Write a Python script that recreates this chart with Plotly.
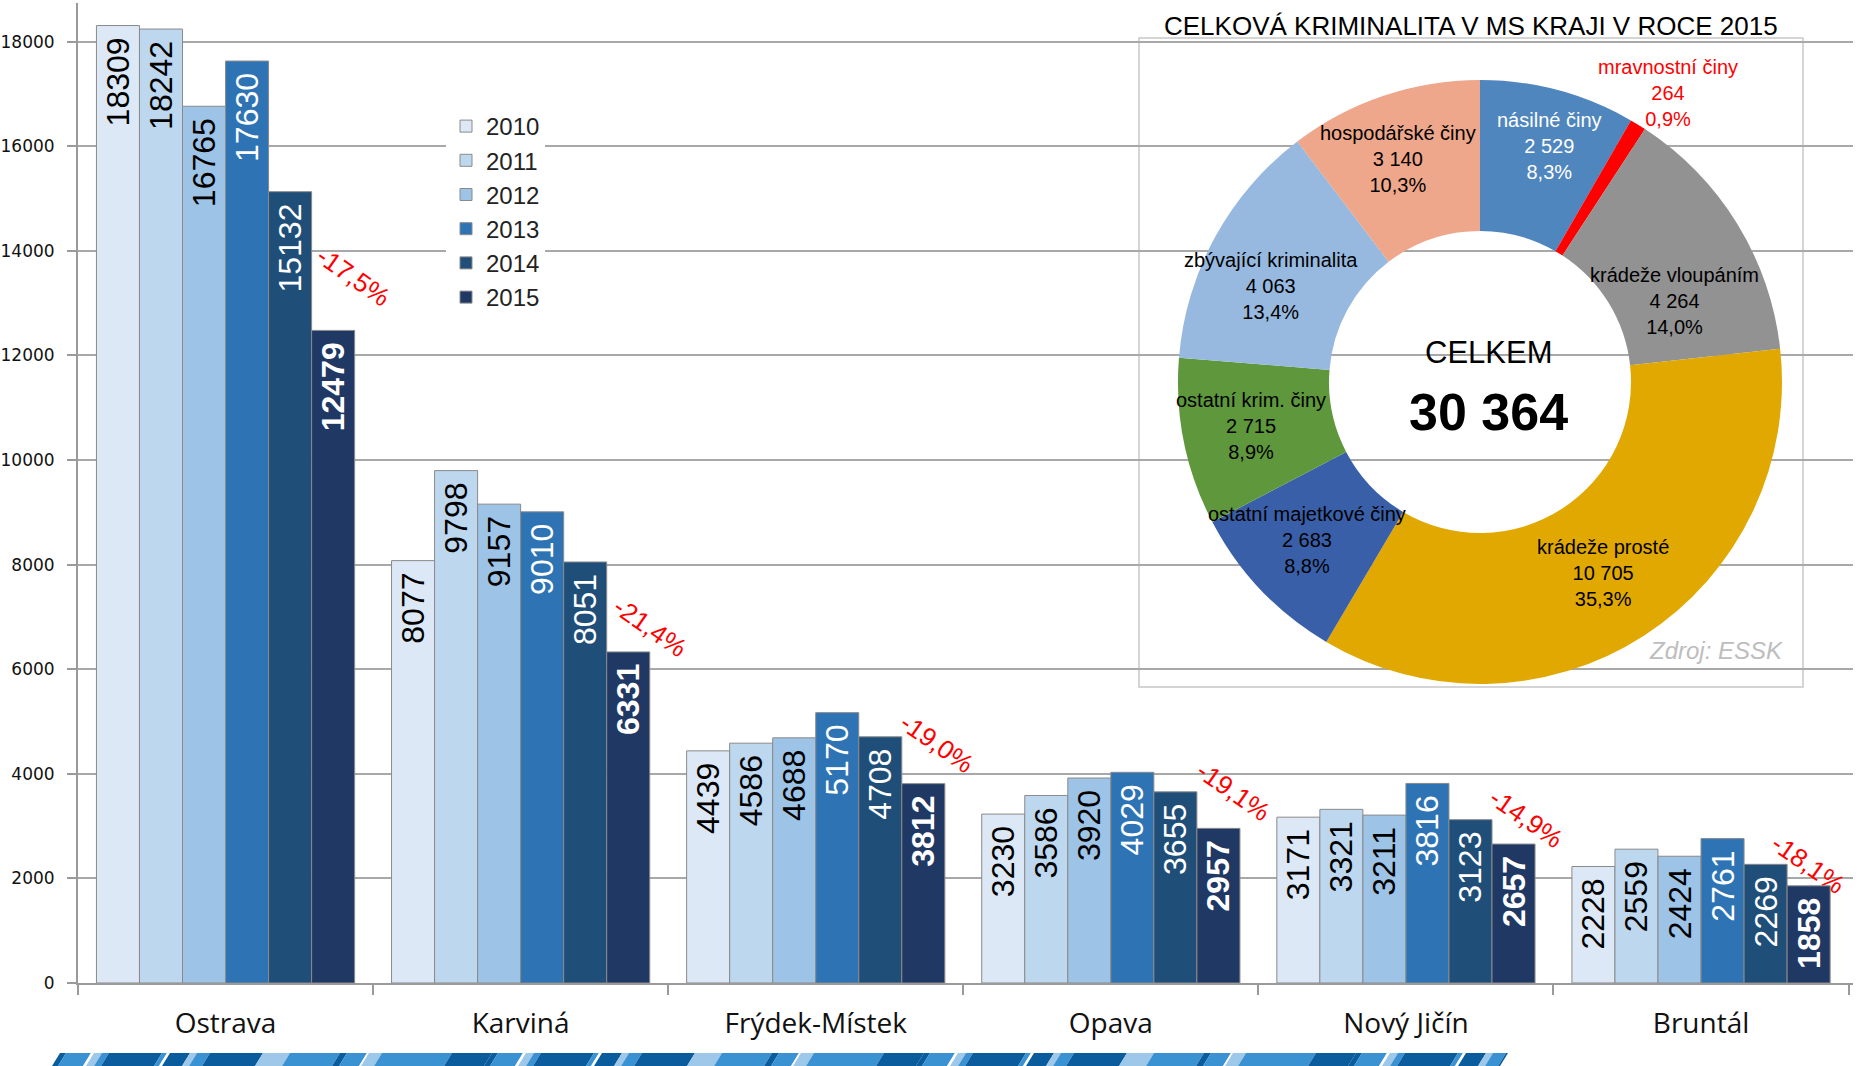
import math
import plotly.graph_objects as go

# ---------------- data ----------------
districts = ["Ostrava", "Karviná", "Frýdek-Místek", "Opava", "Nový Jičín", "Bruntál"]
years = ["2010", "2011", "2012", "2013", "2014", "2015"]
v2010 = [18309, 8077, 4439, 3230, 3171, 2228]
v2011 = [18242, 9798, 4586, 3586, 3321, 2559]
v2012 = [16765, 9157, 4688, 3920, 3211, 2424]
v2013 = [17630, 9010, 5170, 4029, 3816, 2761]
v2014 = [15132, 8051, 4708, 3655, 3123, 2269]
v2015 = [12479, 6331, 3812, 2957, 2657, 1858]
y_ticks = [0, 2000, 4000, 6000, 8000, 10000, 12000, 14000, 16000, 18000]

pie_labels = ["násilné činy", "mravnostní činy", "krádeže vloupáním", "krádeže prosté",
              "ostatní majetkové činy", "ostatní krim. činy", "zbývající kriminalita",
              "hospodářské činy"]
pie_values = [2529, 264, 4264, 10705, 2683, 2715, 4063, 3140]
total_2015 = 30364
pie_title = "CELKOVÁ KRIMINALITA V MS KRAJI V ROCE 2015"
source_text = "Zdroj: ESSK"

# ---------------- geometry / style ----------------
W, H = 1864, 1066
ML, MR, MT, MB = 78, 11, 3, 83
PW, PH = W - ML - MR, H - MT - MB


def px_x(px):
    return (px - ML) / PW


def px_y(py):
    return (H - MB - py) / PH


bar_colors = ["#DCE8F5", "#BDD7EE", "#9DC3E6", "#2E74B5", "#1F4E79", "#203864"]
text_colors = ["#000000", "#000000", "#000000", "#FFFFFF", "#FFFFFF", "#FFFFFF"]
series = [v2010, v2011, v2012, v2013, v2014, v2015]

fig = go.Figure()
for i, (yr, vals) in enumerate(zip(years, series)):
    if i == 5:
        txt = [f"<b>{v}</b>\u00a0" for v in vals]
    else:
        txt = [f"{v}\u00a0" for v in vals]
    fig.add_trace(go.Bar(
        name=yr, x=districts, y=vals,
        marker=dict(color=bar_colors[i], line=dict(color="#8a8a8a", width=1)),
        text=txt, textposition="inside", insidetextanchor="end", textangle=-90,
        constraintext="none",
        textfont=dict(family="Liberation Sans, Arial", size=32, color=text_colors[i]),
        hoverinfo="skip",
    ))

# ---------------- pie ----------------
pie_colors = ["#4F86BD", "#FF0000", "#929292", "#E0A800", "#3A5FA9", "#5F973C",
              "#97B9DF", "#EEA78A"]
cx, cy, R = 1480, 382, 302
fig.add_trace(go.Pie(
    values=pie_values, labels=pie_labels, hole=0.5, sort=False,
    direction="clockwise", rotation=0,
    marker=dict(colors=pie_colors, line=dict(width=0)),
    textinfo="none", hoverinfo="skip", showlegend=False,
    domain=dict(x=[px_x(cx - R), px_x(cx + R)], y=[px_y(cy + R), px_y(cy - R)]),
))

shapes = []
# white panel behind pie
shapes.append(dict(type="rect", xref="paper", yref="paper", layer="between",
                   x0=px_x(1139), x1=px_x(1803), y0=px_y(687), y1=px_y(38),
                   fillcolor="white", line=dict(color="#C8C8C8", width=1.5)))


def ann(text, x, y, size, color="#000", family="Liberation Sans, Arial", **kw):
    d = dict(text=text, xref="paper", yref="paper", x=px_x(x), y=px_y(y),
             xanchor="center", yanchor="middle", showarrow=False,
             font=dict(family=family, size=size, color=color))
    d.update(kw)
    return d


annotations = []
annotations.append(ann(pie_title, 1471, 26, 26))
annotations.append(ann("CELKEM", 1488, 353, 31))
annotations.append(ann("<b>" + f"{total_2015:,}".replace(",", " ") + "</b>", 1488, 412, 52))
annotations.append(ann("<i>" + source_text + "</i>", 1716, 651, 24, color="#BDBDBD"))

pie_sum = sum(pie_values)
label_colors = ["#FFFFFF", "#FF0000", "#000", "#000", "#000", "#000", "#000", "#000"]
label_radius = [246, 345, 211, 227, 234, 233, 230, 237]
label_dangle = [1.5, 1.5, 9, 0, 1, 0.5, -4, -1.5]
cum = 0
for i, (lab, v) in enumerate(zip(pie_labels, pie_values)):
    mid = (cum + v / 2) / pie_sum * 360 + label_dangle[i]
    cum += v
    a = math.radians(mid)
    lx = cx + label_radius[i] * math.sin(a)
    ly = cy - label_radius[i] * math.cos(a)
    pct = f"{v / pie_sum * 100:.1f}".replace(".", ",") + "%"
    txt = f"{lab}<br>{v:,}".replace(",", " ") + f"<br>{pct}"
    annotations.append(ann(txt, lx, ly, 20, color=label_colors[i]))

# red change labels 2014 -> 2015
chg_xshift = [127, 129, 121, 122, 120, 107]
chg_yshift = [54, 25, 41, 37, 26, 22]
for i, d in enumerate(districts):
    ch = (v2015[i] - v2014[i]) / v2014[i] * 100
    t = f"{ch:.1f}".replace(".", ",") + "%"
    annotations.append(dict(text=t, x=d, y=v2015[i], xref="x", yref="y",
                            xanchor="center", yanchor="middle",
                            xshift=chg_xshift[i], yshift=chg_yshift[i], textangle=35,
                            showarrow=False,
                            font=dict(family="Liberation Sans, Arial", size=26, color="#FF0000")))

# decorative stripe at bottom
stripe_cols = {"d": "#0A5C9C", "m": "#3B92D3", "l": "#9DC8EA", "w": "#FFFFFF"}
stripe_pattern = [(6, "d"), (25, "m"), (3, "w"), (8, "l"), (7, "m"), (53, "d"), (5, "m"),
                  (3, "w"), (20, "d"), (7, "l"), (13, "m"), (53, "d"), (27, "l"), (50, "m"),
                  (7, "d"), (20, "m"), (2, "w"), (13, "l"), (70, "m"), (40, "d")]
sx = 60
k = 0
yt, yb = 1053, 1066
while sx < 1508:
    w, c = stripe_pattern[k % len(stripe_pattern)]
    x0, x1 = sx, min(sx + w, 1508)
    path = (f"M {px_x(x0)},{px_y(yt)} L {px_x(x1)},{px_y(yt)} "
            f"L {px_x(x1 - 8)},{px_y(yb)} L {px_x(x0 - 8)},{px_y(yb)} Z")
    shapes.append(dict(type="path", xref="paper", yref="paper", path=path,
                       fillcolor=stripe_cols[c], line=dict(width=0), layer="above"))
    sx += w
    k += 1

fig.update_layout(
    width=W, height=H,
    margin=dict(l=ML, r=MR, t=MT, b=MB, pad=0, autoexpand=False),
    paper_bgcolor="white", plot_bgcolor="white",
    barmode="group", bargap=0.125, bargroupgap=0,
    showlegend=True,
    legend=dict(x=px_x(446), y=px_y(104), xanchor="left", yanchor="top",
                bgcolor="white", borderwidth=0, traceorder="normal",
                font=dict(family="Liberation Sans, Arial", size=24, color="#222")),
    xaxis=dict(type="category", showline=True, linecolor="#9A9A9A", linewidth=2,
               ticks="outside", ticklen=10, tickwidth=2, tickcolor="#9A9A9A",
               tickson="boundaries", showgrid=False, automargin=False,
               tickfont=dict(family="Open Sans", size=28, color="#111"),
               ticklabelstandoff=14),
    yaxis=dict(range=[0, 18740], tickvals=y_ticks, tickformat="d", showgrid=True,
               gridcolor="#A8A8A8", automargin=False,
               gridwidth=1.5, showline=True, linecolor="#9A9A9A", linewidth=2,
               ticks="outside", ticklen=9, tickwidth=2, tickcolor="#9A9A9A",
               zeroline=False, ticklabelstandoff=9,
               tickfont=dict(family="DejaVu Sans", size=17, color="#111")),
    shapes=shapes, annotations=annotations,
)

fig.write_html("out.html", config={"displayModeBar": False},
               post_script="document.body.style.margin='0px';")
